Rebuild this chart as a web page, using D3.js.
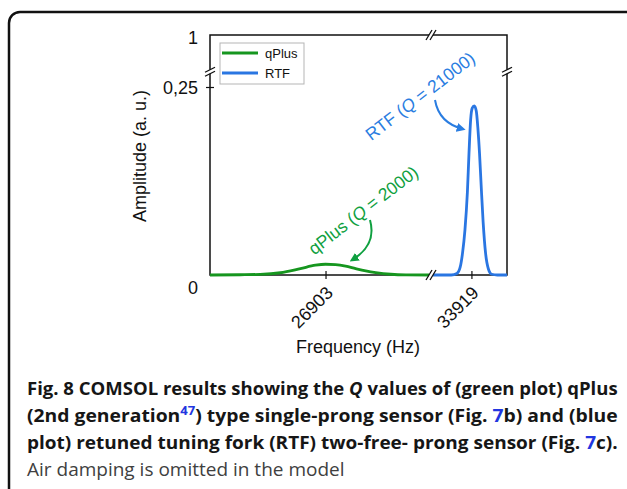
<!DOCTYPE html>
<html>
<head>
<meta charset="utf-8">
<script src="https://cdn.jsdelivr.net/npm/d3@7"></script>
<style>
  body { margin: 0; background: #fff; }
  svg { display: block; }
</style>
</head>
<body>
<svg id="chart"></svg>
<script>
// values
const seriesNames = ['qPlus', 'RTF'];
const qPlusFreq = [26880, 26886, 26890, 26894, 26898, 26901, 26903, 26905, 26907, 26909, 26911, 26913, 26916, 26919, 26924];
const qPlusAmp  = [0, 0.0003, 0.0008, 0.003, 0.0085, 0.013, 0.0143, 0.0138, 0.0118, 0.0085, 0.0055, 0.0032, 0.001, 0.0002, 0];
const rtfFreq = [33914, 33916.5, 33917.2, 33917.6, 33917.9, 33918.2, 33918.5, 33918.7, 33918.9, 33919.1, 33919.35,
                 33919.6, 33919.8, 33920.0, 33920.2, 33920.45, 33920.75, 33921.1, 33921.5, 33922.2, 33923.4];
const rtfAmp  = [0, 0, 0.002, 0.010, 0.029, 0.060, 0.110, 0.162, 0.206, 0.222, 0.225,
                 0.218, 0.195, 0.162, 0.120, 0.070, 0.029, 0.008, 0.001, 0, 0];
const xTicks = [26903, 33919];
const yTicks = [0, 0.25, 1];
const yTickLabels = ['0', '0,25', '1'];
const xLeftDomain = [26880, 26924];
const xRightDomain = [33914, 33923.4];
const yBreakValue = 0.47;

const green = '#16961f', blue = '#2a76e2';
const greenText = '#0fa040', blueText = '#2a7de1';

const W = 627, H = 489;
const margin = { top: 35, right: 120, bottom: 214, left: 210 };
const pLeft = margin.left, pRight = W - margin.right, pTop = margin.top, pBottom = H - margin.bottom;
const xBreak = 431;
const chartFont = '"Liberation Sans", Arial, sans-serif';

const svg = d3.select('#chart').attr('width', W).attr('height', H);

// outer frame
svg.append('rect')
    .attr('x', 9).attr('y', 12).attr('width', 640).attr('height', 500)
    .attr('rx', 11)
    .attr('fill', 'none').attr('stroke', '#111').attr('stroke-width', 2.5);

const x = d3.scaleLinear()
    .domain([xLeftDomain[0], xLeftDomain[1], xRightDomain[0], xRightDomain[1]])
    .range([pLeft, xBreak, xBreak, pRight]);
const y = d3.scaleLinear()
    .domain([yTicks[0], yTicks[1], yTicks[2]])
    .range([pBottom, 87, pTop]);

const defs = svg.append('defs');
defs.append('clipPath').attr('id', 'clipL').append('rect')
    .attr('x', pLeft).attr('y', pTop - 5).attr('width', xBreak - pLeft).attr('height', pBottom - pTop + 10);
defs.append('clipPath').attr('id', 'clipR').append('rect')
    .attr('x', xBreak).attr('y', pTop - 5).attr('width', pRight - xBreak).attr('height', pBottom - pTop + 10);
[['arrG', greenText], ['arrB', blueText]].forEach(([id, c]) => {
  defs.append('marker').attr('id', id)
      .attr('viewBox', '0 0 10 10').attr('refX', 7).attr('refY', 5)
      .attr('markerWidth', 4.5).attr('markerHeight', 4.5).attr('orient', 'auto')
      .append('path').attr('d', 'M0,0 L10,5 L0,10 z').attr('fill', c);
});

// box
svg.append('rect')
    .attr('x', pLeft).attr('y', pTop).attr('width', pRight - pLeft).attr('height', pBottom - pTop)
    .attr('fill', 'none').attr('stroke', '#111').attr('stroke-width', 1.5);

// x axis ticks + labels
const xAxis = svg.append('g')
    .attr('transform', `translate(0,${pBottom})`)
    .call(d3.axisBottom(x).tickValues(xTicks).tickSize(4).tickFormat(d3.format('d')));
xAxis.select('.domain').remove();
xAxis.selectAll('.tick line').attr('y1', -4).attr('y2', 4).attr('stroke', '#111').attr('stroke-width', 1.2);
xAxis.selectAll('.tick text')
    .attr('font-family', chartFont).attr('font-size', 18).attr('fill', '#111')
    .attr('text-anchor', 'end').attr('y', 0).attr('dy', 0)
    .attr('transform', 'translate(8,19) rotate(-45)');

// y axis ticks + labels
const yAxis = svg.append('g')
    .attr('transform', `translate(${pLeft},0)`)
    .call(d3.axisLeft(y).tickValues(yTicks).tickSize(4).tickFormat((d, i) => yTickLabels[i]));
yAxis.select('.domain').remove();
yAxis.selectAll('.tick line')
    .attr('x1', -4).attr('x2', 4).attr('stroke', '#111').attr('stroke-width', 1.2)
    .attr('display', d => d === 0.25 ? null : 'none');
yAxis.selectAll('.tick text')
    .attr('font-family', chartFont).attr('font-size', 18).attr('fill', '#111')
    .attr('x', -12).attr('dy', d => d === 0 ? '1.0em' : d === 1 ? '0.45em' : '0.36em');

// series
const line = d3.line().x(d => x(d[0])).y(d => y(d[1])).curve(d3.curveMonotoneX);
svg.append('path')
    .datum(d3.zip(qPlusFreq, qPlusAmp))
    .attr('clip-path', 'url(#clipL)')
    .attr('fill', 'none').attr('stroke', green).attr('stroke-width', 2.8)
    .attr('stroke-linejoin', 'round').attr('d', line);
svg.append('path')
    .datum(d3.zip(rtfFreq, rtfAmp))
    .attr('clip-path', 'url(#clipR)')
    .attr('fill', 'none').attr('stroke', blue).attr('stroke-width', 2.8)
    .attr('stroke-linejoin', 'round').attr('d', line);

// axis breaks
function xBreakMark(bx, by) {
  svg.append('rect').attr('x', bx - 2).attr('y', by - 2).attr('width', 4).attr('height', 4).attr('fill', '#fff');
  [-2, 2].forEach(o => svg.append('line')
      .attr('x1', bx + o - 3).attr('y1', by + 5).attr('x2', bx + o + 3).attr('y2', by - 5)
      .attr('stroke', '#111').attr('stroke-width', 1.3));
}
function yBreakMark(bx, by) {
  svg.append('rect').attr('x', bx - 2).attr('y', by - 2).attr('width', 4).attr('height', 4).attr('fill', '#fff');
  [-2, 2].forEach(o => svg.append('line')
      .attr('x1', bx - 5).attr('y1', by + o + 2.5).attr('x2', bx + 5).attr('y2', by + o - 2.5)
      .attr('stroke', '#111').attr('stroke-width', 1.3));
}
xBreakMark(xBreak, pBottom);
xBreakMark(xBreak, pTop);
yBreakMark(pLeft, y(yBreakValue));
yBreakMark(pRight, y(yBreakValue));

// legend
const lg = svg.append('g');
lg.append('rect').attr('x', 220).attr('y', 43).attr('width', 84).attr('height', 41)
    .attr('fill', '#fff').attr('stroke', '#b5b5b5').attr('stroke-width', 1);
[green, blue].forEach((c, i) => {
  const ly = 53 + i * 20;
  lg.append('line').attr('x1', 222).attr('x2', 258).attr('y1', ly).attr('y2', ly)
      .attr('stroke', c).attr('stroke-width', 3);
  lg.append('text').attr('x', 265).attr('y', ly + 4.5)
      .attr('font-family', chartFont).attr('font-size', 13).attr('fill', '#111')
      .text(seriesNames[i]);
});

// axis titles
svg.append('text')
    .attr('transform', 'translate(146,156) rotate(-90)')
    .attr('text-anchor', 'middle')
    .attr('font-family', chartFont).attr('font-size', 18).attr('fill', '#111')
    .text('Amplitude (a. u.)');
svg.append('text')
    .attr('x', 358).attr('y', 353)
    .attr('text-anchor', 'middle')
    .attr('font-family', chartFont).attr('font-size', 18).attr('fill', '#111')
    .text('Frequency (Hz)');

// annotations
function annot(cx, cy, name, q, color) {
  const t = svg.append('text')
      .attr('transform', `translate(${cx},${cy}) rotate(-37.5)`)
      .attr('text-anchor', 'middle').attr('dy', '0.36em')
      .attr('font-family', chartFont).attr('font-size', 17.5).attr('fill', color);
  t.append('tspan').text(name + ' (');
  t.append('tspan').attr('font-style', 'italic').text('Q');
  t.append('tspan').text(' = ' + q + ')');
}
annot(420, 96, seriesNames[1], '21000', blueText);
annot(363, 210, seriesNames[0], '2000', greenText);

svg.append('path').attr('d', 'M435,100 Q439,123 463,129')
    .attr('fill', 'none').attr('stroke', blueText).attr('stroke-width', 2).attr('marker-end', 'url(#arrB)');
svg.append('path').attr('d', 'M370,220 Q377,245 352,260')
    .attr('fill', 'none').attr('stroke', greenText).attr('stroke-width', 2).attr('marker-end', 'url(#arrG)');

// caption: bold lines squeezed horizontally to the justified width
const capX = 27, capW = 591;
const capLines = [
  [['Fig. 8 COMSOL results showing the '], ['Q', 'i'], [' values of (green plot) qPlus']],
  [['(2nd generation'], ['47', 's'], [') type single-prong sensor (Fig. ', 'after'], ['7', 'l'], ['b) and (blue']],
  [['plot) retuned tuning fork (RTF) two-free- prong sensor (Fig. '], ['7', 'l'], ['c).']]
];
capLines.forEach((parts, i) => {
  const g = svg.append('g');
  const t = g.append('text')
      .attr('x', 0).attr('y', 0)
      .attr('font-family', '"Open Sans", "Noto Sans", sans-serif').attr('font-weight', 700)
      .attr('font-size', 18.5).attr('fill', '#161616');
  parts.forEach(([s, k]) => {
    const ts = t.append('tspan').text(s);
    if (k === 'i') ts.attr('font-style', 'italic');
    if (k === 'l') ts.attr('fill', '#2236e0');
    if (k === 's') ts.attr('fill', '#2236e0').attr('font-size', 12.5).attr('dy', -7.5);
    if (k === 'after') ts.attr('dy', 7.5);
  });
  const k = capW / t.node().getComputedTextLength();
  g.attr('transform', `translate(${capX},${395 + i * 27}) scale(${k},1)`);
});
svg.append('text')
    .attr('x', capX).attr('y', 476)
    .attr('font-family', '"Open Sans", "Noto Sans", sans-serif').attr('font-weight', 400)
    .attr('font-size', 19).attr('fill', '#404040')
    .text('Air damping is omitted in the model');
</script>
</body>
</html>
